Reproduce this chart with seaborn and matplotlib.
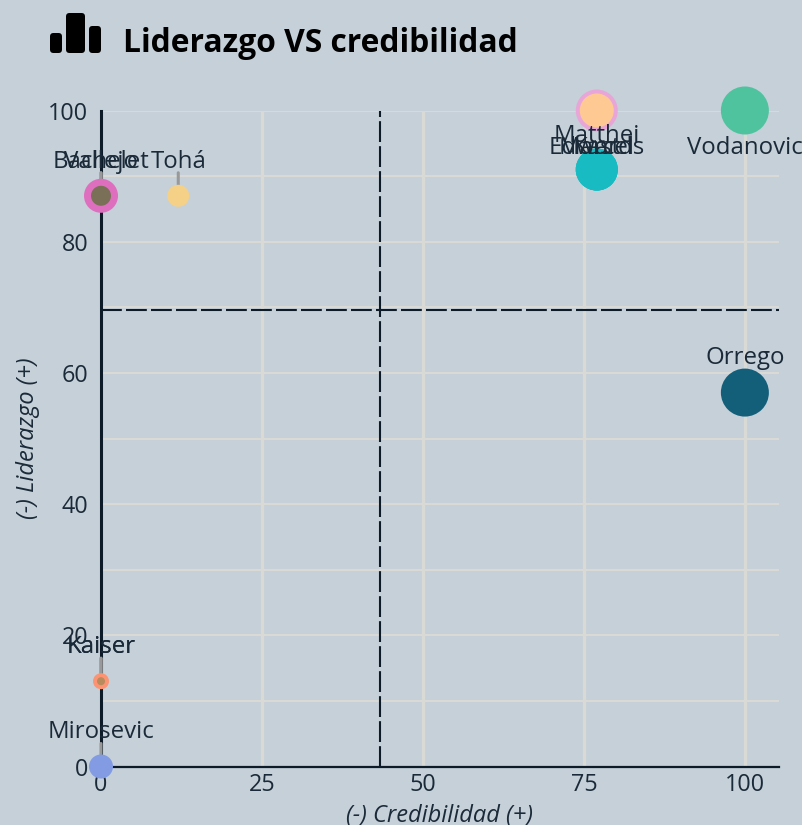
import matplotlib
matplotlib.use("Agg")
import matplotlib.pyplot as plt
from matplotlib.patches import FancyBboxPatch
from matplotlib.transforms import IdentityTransform
import pandas as pd
import seaborn as sns

# Data
nombres = ["Vodanovic", "Orrego", "Edwards", "Kast", "Marcel", "Matthei", "Matthei ", "Bachelet", "Vallejo",
           "Tohá", "Kaiser", "Kaiser ", "Mirosevic"]
credibilidad = [100, 100, 77, 77, 77, 77, 77, 0, 0, 12, 0, 0, 0]
liderazgo = [100, 57, 91, 91, 91, 100, 100, 87, 87, 87, 13, 13, 0]
x_ticks = [0, 25, 50, 75, 100]
y_ticks = [0, 20, 40, 60, 80, 100]
y_grid = [0, 10, 20, 30, 40, 50, 60, 70, 80, 90, 100]
media_x = 43.3
media_y = 69.6

# Styles
colores = {"Vodanovic": "#4FC39E", "Orrego": "#135F7A", "Edwards": "#17BBC1", "Kast": "#17BBC1", "Marcel": "#17BBC1",
           "Matthei": "#E8A6D8", "Matthei ": "#FFC994", "Bachelet": "#DE6FBF", "Vallejo": "#7A7058", "Tohá": "#F5D087",
           "Kaiser": "#FC9473", "Kaiser ": "#B88A5C", "Mirosevic": "#829BE3"}
radios = {"Vodanovic": 24, "Orrego": 24, "Edwards": 21, "Kast": 21, "Marcel": 21, "Matthei": 21, "Matthei ": 17,
          "Bachelet": 17, "Vallejo": 10, "Tohá": 11, "Kaiser": 8, "Kaiser ": 4, "Mirosevic": 12}
FONDO = "#C5D0D9"
GRID = "#D9D9D6"
TINTA = "#0D1B28"
TEXTO = "#1B2A38"
# px above the point, where the label does not sit at the usual 34 with a connector
offset_label = {"Vodanovic": -37, "Orrego": 35, "Edwards": 22, "Kast": 22, "Marcel": 22, "Matthei": -25, "Matthei ": None}
sin_conector = ["Vodanovic", "Orrego", "Edwards", "Kast", "Marcel", "Matthei"]

df = pd.DataFrame({"nombre": nombres, "credibilidad": credibilidad, "liderazgo": liderazgo})

sns.set_theme(style="white")
plt.rcParams["font.family"] = ["Open Sans", "DejaVu Sans"]

W, H = 802, 825
fig = plt.figure(figsize=(W / 100, H / 100), dpi=100, facecolor=FONDO)
ax = fig.add_axes([101 / W, 1 - 766.5 / H, (779 - 101) / W, (766.5 - 110.5) / H], facecolor=FONDO)

# Grid
for v in x_ticks[1:]:
    ax.axvline(v, color=GRID, lw=2.4, zorder=1)
for v in y_grid[1:]:
    ax.axhline(v, color=GRID, lw=1.6, zorder=1)

# Mean lines
ax.axvline(media_x, color=TINTA, lw=1.5, ls=(0, (10, 2)), zorder=2)
ax.axhline(media_y, color=TINTA, lw=1.5, ls=(0, (10, 2)), zorder=2)

sns.scatterplot(
    data=df, x="credibilidad", y="liderazgo", hue="nombre", size="nombre",
    palette=colores, sizes={k: (2 * r * 0.72) ** 2 for k, r in radios.items()},
    linewidth=0, legend=False, ax=ax, zorder=4, clip_on=False,
)

# Labels and connector lines
for nombre, x, y in zip(nombres, credibilidad, liderazgo):
    dy = offset_label.get(nombre, 34)
    if dy is None:
        continue
    ax.annotate(nombre.strip(), xy=(x, y), xytext=(0, dy), textcoords="offset pixels", ha="center", va="center",
                fontsize=17.3, color=TEXTO, zorder=5, annotation_clip=False)
    if nombre not in sin_conector:
        ax.annotate("", xy=(x, y), xytext=(0, 23), textcoords="offset pixels", annotation_clip=False, zorder=3,
                    arrowprops=dict(arrowstyle="-", color="#999999", lw=2.2, shrinkA=0, shrinkB=0))

ax.set_xlim(0, 105.3)
ax.set_ylim(0, 100)
ax.set_xticks(x_ticks)
ax.set_yticks(y_ticks)
ax.tick_params(axis="both", length=0, labelsize=16.8, labelcolor=TEXTO)
ax.tick_params(axis="x", pad=5)
ax.tick_params(axis="y", pad=9)
ax.set_xlabel("(-) Credibilidad (+)", fontsize=17, fontstyle="italic", color=TEXTO, labelpad=4.5)
ax.set_ylabel("(-) Liderazgo (+)", fontsize=17, fontstyle="italic", color=TEXTO, labelpad=6)

for s in ["top", "right"]:
    ax.spines[s].set_visible(False)
ax.spines["left"].set_color(TINTA)
ax.spines["left"].set_linewidth(2.2)
ax.spines["bottom"].set_color(TINTA)
ax.spines["bottom"].set_linewidth(1.6)

# Title icon, in pixels
for x0, x1, top in [(50, 62, 33), (66, 85, 13), (89, 101, 26)]:
    fig.add_artist(FancyBboxPatch((x0, H - 53), x1 - x0, 53 - top, transform=IdentityTransform(),
                                  boxstyle="round,pad=0,rounding_size=3.5",
                                  facecolor="black", edgecolor="none"))
fig.text(123 / W, 1 - 52 / H, "Liderazgo VS credibilidad", fontsize=22.9, fontweight="bold", color="black",
         ha="left", va="baseline")

fig.savefig("out.png", dpi=100, facecolor=FONDO)
